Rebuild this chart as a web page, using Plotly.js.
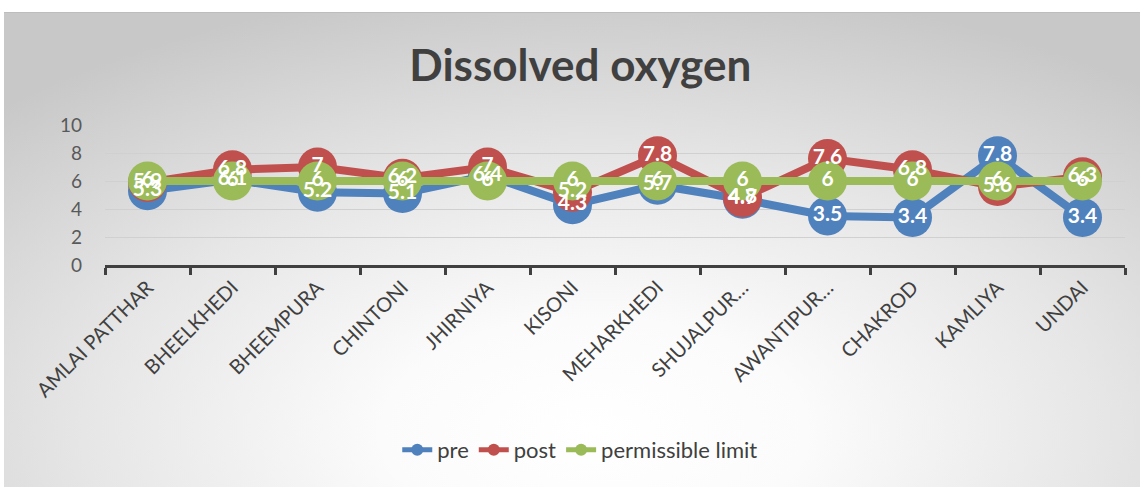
<!DOCTYPE html>
<html>
<head>
<meta charset="utf-8">
<script src="https://cdn.plot.ly/plotly-3.0.1.min.js"></script>
<style>
  html, body { margin: 0; padding: 0; background: #ffffff; }
  #wrap { position: relative; width: 1140px; height: 487px; overflow: hidden; }
  #bg { position: absolute; left: 4px; top: 12px; width: 1136px; height: 475px;
        border-top: 1px solid #bdbdbd;
        background: radial-gradient(ellipse 75% 95% at 52% 88%, #ffffff 0%, #fbfbfb 25%, #e6e6e6 60%, #c8c8c8 100%); }
  #chart { position: absolute; left: 0; top: 0; width: 1140px; height: 487px; }
</style>
</head>
<body>
<div id="wrap">
  <div id="bg"></div>
  <div id="chart"></div>
</div>
<script>
const categories = ["AMLAI PATTHAR", "BHEELKHEDI", "BHEEMPURA", "CHINTONI", "JHIRNIYA", "KISONI",
                    "MEHARKHEDI", "SHUJALPUR…", "AWANTIPUR…", "CHAKROD", "KAMLIYA", "UNDAI"];
const preValues  = [5.3, 6.1, 5.2, 5.1, 6.4, 4.3, 5.7, 4.7, 3.5, 3.4, 7.8, 3.4];
const postValues = [5.9, 6.8, 7, 6.2, 7, 5.2, 7.8, 4.8, 7.6, 6.8, 5.6, 6.3];
const limitValues = [6, 6, 6, 6, 6, 6, 6, 6, 6, 6, 6, 6];
const yTicks = [0, 2, 4, 6, 8, 10];

const series = [
  {name: "pre", y: preValues, color: "#4f81bd"},
  {name: "post", y: postValues, color: "#c0504d"},
  {name: "permissible limit", y: limitValues, color: "#9bbb59"}
];

const font = "Lato, 'Open Sans', 'Liberation Sans', sans-serif";
const traces = [];
series.forEach(s => {
  traces.push({
    type: "scatter", mode: "lines+markers", name: s.name,
    x: categories, y: s.y,
    line: {color: s.color, width: 8},
    marker: {color: s.color, size: 39},
    cliponaxis: false, hoverinfo: "skip"
  });
});
series.forEach(s => {
  traces.push({
    type: "scatter", mode: "text", showlegend: false,
    x: categories, y: s.y,
    text: s.y.map(v => String(v)),
    textposition: "middle center",
    textfont: {family: font, size: 21, color: "#ffffff", weight: "bold"},
    cliponaxis: false, hoverinfo: "skip"
  });
});

const layout = {
  width: 1140, height: 487,
  paper_bgcolor: "rgba(0,0,0,0)", plot_bgcolor: "rgba(0,0,0,0)",
  margin: {l: 105, r: 15, t: 125, b: 222},
  showlegend: true,
  title: {
    text: "<b>Dissolved oxygen</b>",
    font: {family: font, size: 44, color: "#404040"},
    xref: "container", x: 0.509, xanchor: "center",
    yref: "container", y: 0.866, yanchor: "middle"
  },
  xaxis: {
    type: "category",
    range: [-0.5, 11.5],
    autorange: false,
    tickangle: -45,
    tickson: "boundaries",
    ticks: "outside", ticklen: 7, tickwidth: 3, tickcolor: "#404040",
    showline: true, linecolor: "#404040", linewidth: 3,
    showgrid: false, zeroline: false,
    tickfont: {family: font, size: 20, color: "#404040"}
  },
  yaxis: {
    range: [0, 10],
    autorange: false,
    tickvals: yTicks,
    showgrid: true, gridcolor: "#d0d0d0", gridwidth: 1,
    zeroline: false, showline: false,
    ticks: "", ticklabelstandoff: 22,
    tickfont: {family: font, size: 19, color: "#595959"}
  },
  legend: {
    orientation: "h",
    xref: "container", x: 0.509, xanchor: "center",
    yref: "container", y: 0.076, yanchor: "middle",
    font: {family: font, size: 22, color: "#404040"},
    bgcolor: "rgba(0,0,0,0)",
    itemsizing: "constant"
  }
};

Plotly.newPlot("chart", traces, layout, {displayModeBar: false, staticPlot: true});
</script>
</body>
</html>
